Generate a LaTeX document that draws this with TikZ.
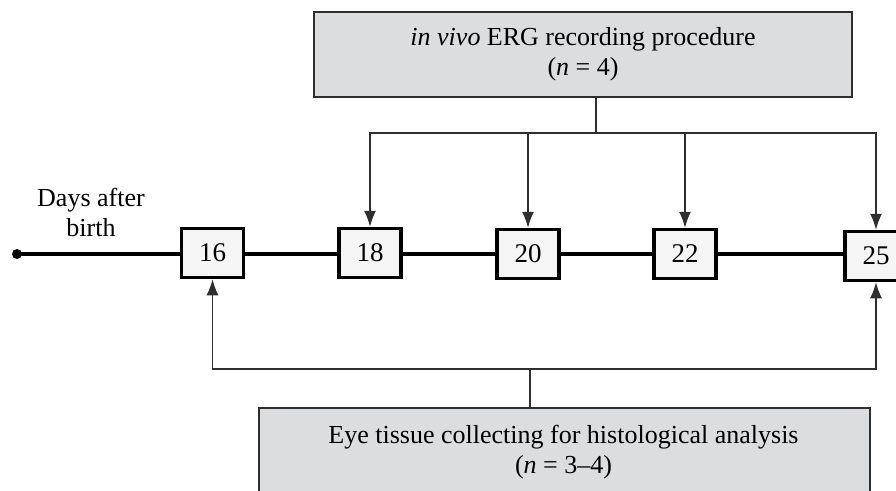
\documentclass[tikz,border=0pt]{standalone}
\usepackage{fontspec}
\setmainfont{Liberation Serif}
\usetikzlibrary{arrows.meta}
\definecolor{boxgray}{HTML}{DCDDDF}
\definecolor{linegray}{HTML}{2E2E2E}
\begin{document}
\begin{tikzpicture}[x=1pt,y=-1pt,
  bigbox/.style={draw=linegray, line width=2pt, fill=boxgray, align=center,
    font=\fontsize{26}{30}\selectfont, inner sep=0pt},
  bigtext/.style={font=\fontsize{26}{30}\selectfont, align=center, inner sep=0pt},
  daybox/.style={draw=black, line width=3.5pt, fill=white!96!black,
    minimum width=62pt, minimum height=49pt, inner sep=0pt,
    font=\fontsize{27}{27}\selectfont},
  conn/.style={draw=linegray, line width=1.4pt},
  arr/.style={conn, -{Latex[length=16pt,width=12pt]}},
  timeline/.style={draw=black, line width=4.8pt}]
\useasboundingbox (0,0) rectangle (896,490);
\fill[white] (0,0) rectangle (896,490);
% top and bottom boxes
\node[bigbox, minimum width=538pt, minimum height=85pt] (top) at (583,54.5)
  {\textit{in vivo} ERG recording procedure\\(\textit{n} = 4)};
\node[bigbox, minimum width=611pt, minimum height=110pt, anchor=north west] (bot) at (258,407) {};
\node[bigtext] (bottext) at (563.5,452)
  {Eye tissue collecting for histological analysis\\(\textit{n} = 3–4)};
% timeline
\coordinate (dot) at (17,254);
\node[daybox] (b16) at (212.5,253) {16};
\node[daybox] (b18) at (370,253) {18};
\node[daybox] (b20) at (528,254) {20};
\node[daybox] (b22) at (685,254) {22};
\node[daybox] (b25) at (876,256) {25};
\draw[timeline] (dot) -- (dot -| b16.west);
\draw[timeline] (b16.east |- dot) -- (b18.west |- dot);
\draw[timeline] (b18.east |- dot) -- (b20.west |- dot);
\draw[timeline] (b20.east |- dot) -- (b22.west |- dot);
\draw[timeline] (b22.east |- dot) -- (b25.west |- dot);
\fill[black] (dot) circle (5pt);
\node[bigtext] (lab) at (91,212) {Days after\\birth};
% top bus
\coordinate (tb) at (596,133);
\draw[conn] (top.south -| tb) -- (tb);
\draw[conn] (b18.north |- tb) -- (b25.north |- tb);
\draw[arr] (tb) -| (b18.north);
\draw[arr] (tb) -| (b20.north);
\draw[arr] (tb) -| (b22.north);
\draw[arr] (tb) -| (b25.north);
% bottom bus
\coordinate (bb) at (530,369);
\draw[conn] (bot.north -| bb) -- (bb);
\draw[arr] (bb) -| (b16.south);
\draw[arr] (bb) -| (b25.south);
\end{tikzpicture}
\end{document}
